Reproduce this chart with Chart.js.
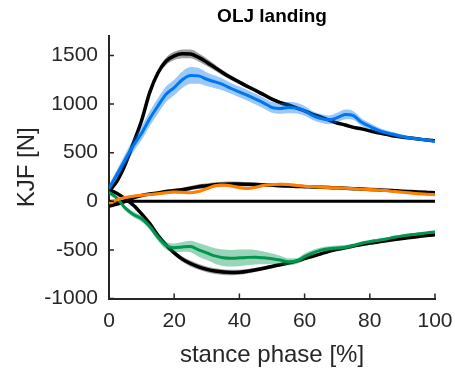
<!DOCTYPE html>
<html>
<head>
<meta charset="utf-8">
<script src="https://cdn.jsdelivr.net/npm/chart.js@4.4.1/dist/chart.umd.min.js"></script>
<style>
  html, body { margin: 0; padding: 0; background: #fff; }
  #wrap { width: 455px; height: 376px; }
</style>
</head>
<body>
<div id="wrap"><canvas id="kjf" width="455" height="376"></canvas></div>
<script>
// stance phase sample points [%]
const stance = [0, 2.5, 5, 7.5, 10, 12.5, 15, 17.5, 20, 22.5, 25, 27.5, 30, 32.5, 35, 37.5, 40,
  42.5, 45, 47.5, 50, 52.5, 55, 57.5, 60, 62.5, 65, 67.5, 70, 72.5, 75, 77.5, 80, 82.5, 85,
  87.5, 90, 92.5, 95, 97.5, 100];

// vertical component: model (black) and measured (blue), mean and spread
const modelVert = [100, 210, 380, 600, 830, 1120, 1320, 1440, 1495, 1517, 1515, 1480, 1430, 1375,
  1320, 1270, 1225, 1180, 1140, 1095, 1050, 1015, 990, 960, 930, 895, 865, 835, 805, 785, 760,
  745, 725, 705, 690, 670, 660, 650, 640, 630, 622];
const modelVertSd = [15, 18, 22, 25, 28, 30, 32, 38, 42, 45, 45, 42, 38, 32, 28, 25, 22, 20, 20, 20,
  18, 18, 18, 18, 18, 16, 16, 16, 15, 15, 15, 14, 14, 13, 13, 12, 12, 12, 12, 12, 12];
const measVert = [130, 280, 430, 575, 700, 850, 980, 1100, 1170, 1250, 1295, 1290, 1255, 1228, 1200,
  1160, 1125, 1090, 1050, 1010, 965, 955, 965, 958, 930, 882, 852, 838, 860, 893, 880, 812, 770,
  732, 706, 686, 666, 651, 640, 630, 615];
const measVertSd = [40, 50, 60, 65, 70, 75, 80, 80, 80, 85, 85, 80, 70, 65, 60, 55, 55, 55, 55, 55,
  55, 55, 60, 55, 50, 45, 45, 45, 50, 50, 45, 40, 35, 30, 25, 22, 20, 18, 16, 15, 15];

// anterior-posterior component: model (black) and measured (orange)
const modelAP = [-50, -30, 0, 35, 60, 75, 85, 100, 110, 120, 135, 150, 160, 170, 175, 178, 178, 175,
  172, 168, 165, 160, 157, 153, 150, 147, 144, 141, 138, 134, 130, 126, 122, 118, 114, 109, 104,
  100, 96, 92, 88];
const modelAPSd = [10, 10, 10, 12, 12, 14, 15, 16, 18, 20, 22, 24, 25, 25, 25, 25, 24, 22, 20, 18,
  16, 15, 15, 14, 14, 13, 13, 12, 12, 12, 12, 12, 12, 11, 11, 11, 10, 10, 10, 10, 10];
const measAP = [-20, 15, 38, 52, 62, 70, 78, 88, 96, 92, 89, 100, 130, 160, 168, 158, 140, 132, 145,
  162, 170, 175, 172, 162, 155, 150, 145, 140, 138, 135, 130, 125, 120, 115, 110, 100, 92, 85, 78,
  72, 68];
const measAPSd = [12, 12, 14, 14, 14, 15, 15, 15, 15, 15, 15, 15, 15, 15, 15, 15, 15, 15, 15, 15,
  15, 15, 15, 15, 14, 14, 14, 14, 14, 14, 13, 13, 13, 13, 12, 12, 12, 12, 12, 12, 12];

// medio-lateral component: model (black) and measured (green)
const modelML = [120, 80, 25, -40, -130, -230, -350, -450, -530, -595, -640, -675, -700, -718, -728,
  -732, -730, -720, -705, -688, -670, -652, -635, -615, -590, -565, -540, -515, -495, -478, -460,
  -445, -430, -418, -405, -393, -382, -372, -362, -352, -345];
const modelMLSd = [12, 12, 12, 14, 15, 18, 20, 22, 25, 28, 30, 30, 30, 30, 30, 28, 26, 24, 22, 20,
  18, 17, 16, 15, 15, 14, 14, 13, 13, 13, 12, 12, 12, 12, 12, 12, 12, 12, 12, 12, 12];
const measML = [90, 30, -70, -135, -180, -260, -370, -455, -478, -470, -465, -500, -530, -562, -580,
  -585, -582, -577, -575, -582, -592, -605, -622, -615, -568, -530, -502, -488, -480, -472, -455,
  -432, -415, -402, -388, -370, -356, -345, -335, -325, -317];
const measMLSd = [20, 22, 25, 28, 30, 32, 35, 40, 45, 50, 60, 70, 75, 80, 85, 85, 85, 80, 75, 65,
  55, 45, 35, 30, 30, 28, 26, 25, 24, 22, 20, 18, 17, 16, 15, 15, 15, 15, 15, 15, 15];

const zeroX = [0, 100];
const zeroY = [0, 0];

const xTicks = [0, 20, 40, 60, 80, 100];
const yTicks = [-1000, -500, 0, 500, 1000, 1500];

const AXIS = '#262626';
const FONT = "'Liberation Sans', Arial, Helvetica, sans-serif";

const datasets = [];

function offsetPts(mean, sd, sign) {
  return mean.map((v, i) => ({ x: stance[i], y: v + sign * sd[i] }));
}

// upper edge fills down to the lower edge pushed right after it
function addBand(mean, sd, color, order) {
  const common = { borderColor: 'rgba(0,0,0,0)', borderWidth: 0, pointRadius: 0,
    cubicInterpolationMode: 'monotone', order };
  datasets.push({ ...common, data: offsetPts(mean, sd, 1), backgroundColor: color, fill: '+1' });
  datasets.push({ ...common, data: offsetPts(mean, sd, -1), fill: false });
}

function addLine(mean, xs, color, width, order) {
  datasets.push({
    data: mean.map((v, i) => ({ x: xs[i], y: v })),
    borderColor: color, borderWidth: width, pointRadius: 0, fill: false,
    cubicInterpolationMode: 'monotone', order
  });
}

// gray bands at the back, then black model curves, then measured bands and lines
addBand(modelVert, modelVertSd, 'rgba(0,0,0,0.38)', 6);
addBand(modelAP, modelAPSd, 'rgba(0,0,0,0.38)', 6);
addBand(modelML, modelMLSd, 'rgba(0,0,0,0.38)', 6);
addLine(zeroY, zeroX, '#000', 3, 5);
addLine(modelVert, stance, '#000', 3.5, 4);
addLine(modelAP, stance, '#000', 3.5, 4);
addLine(modelML, stance, '#000', 3.5, 4);
addBand(measVert, measVertSd, 'rgba(0,118,240,0.4)', 3);
addBand(measAP, measAPSd, 'rgba(255,128,0,0.4)', 3);
addBand(measML, measMLSd, 'rgba(0,150,80,0.4)', 3);
addLine(measVert, stance, 'rgb(0,118,240)', 3, 1);
addLine(measAP, stance, 'rgb(255,128,0)', 3, 1);
addLine(measML, stance, 'rgb(0,150,80)', 3, 1);

// MATLAB style ticks pointing into the axes
const inwardTicks = {
  id: 'inwardTicks',
  afterDatasetsDraw(chart) {
    const { ctx, chartArea, scales: { x, y } } = chart;
    ctx.save();
    ctx.strokeStyle = AXIS;
    ctx.lineWidth = 1.5;
    ctx.beginPath();
    xTicks.forEach(v => {
      const px = x.getPixelForValue(v);
      ctx.moveTo(px, chartArea.bottom);
      ctx.lineTo(px, chartArea.bottom - 5);
    });
    yTicks.forEach(v => {
      const py = y.getPixelForValue(v);
      ctx.moveTo(chartArea.left, py);
      ctx.lineTo(chartArea.left + 5, py);
    });
    ctx.stroke();
    ctx.restore();
  }
};

const plain = v => String(v);

new Chart(document.getElementById('kjf'), {
  type: 'line',
  data: { datasets },
  options: {
    responsive: false,
    animation: false,
    events: [],
    layout: { padding: { left: 0, right: 20, top: 0, bottom: 0 } },
    plugins: {
      legend: { display: false },
      tooltip: { enabled: false },
      title: {
        display: true,
        text: 'OLJ landing',
        fullSize: false,
        color: '#000',
        font: { family: FONT, size: 19, weight: 'bold', lineHeight: 1.2 },
        padding: { top: 5, bottom: 8.2 }
      }
    },
    scales: {
      x: {
        type: 'linear',
        min: 0,
        max: 100,
        afterBuildTicks: s => { s.ticks = xTicks.map(v => ({ value: v })); },
        afterFit: s => { s.height = 77.5; s.paddingLeft = 0; s.paddingRight = 0; },
        grid: { display: true, drawOnChartArea: false, drawTicks: false },
        border: { display: true, color: AXIS, width: 2 },
        ticks: { color: AXIS, autoSkip: false, maxRotation: 0, padding: 10, callback: plain,
          font: { family: FONT, size: 21, lineHeight: 1.2 } },
        title: { display: true, text: 'stance phase [%]', color: AXIS,
          font: { family: FONT, size: 24, lineHeight: 1.2 }, padding: { top: 0, bottom: 6 } }
      },
      y: {
        type: 'linear',
        min: -1000,
        max: 1700,
        afterBuildTicks: s => { s.ticks = yTicks.map(v => ({ value: v })); },
        afterFit: s => { s.width = 109; s.paddingTop = 0; s.paddingBottom = 0; },
        grid: { display: true, drawOnChartArea: false, drawTicks: false },
        border: { display: true, color: AXIS, width: 2 },
        ticks: { color: AXIS, padding: 11, callback: plain,
          font: { family: FONT, size: 21, lineHeight: 1.2 } },
        title: { display: true, text: 'KJF [N]', color: AXIS,
          font: { family: FONT, size: 24, lineHeight: 1.2 }, padding: { top: 12.6, bottom: 0 } }
      }
    }
  },
  plugins: [inwardTicks]
});
</script>
</body>
</html>
